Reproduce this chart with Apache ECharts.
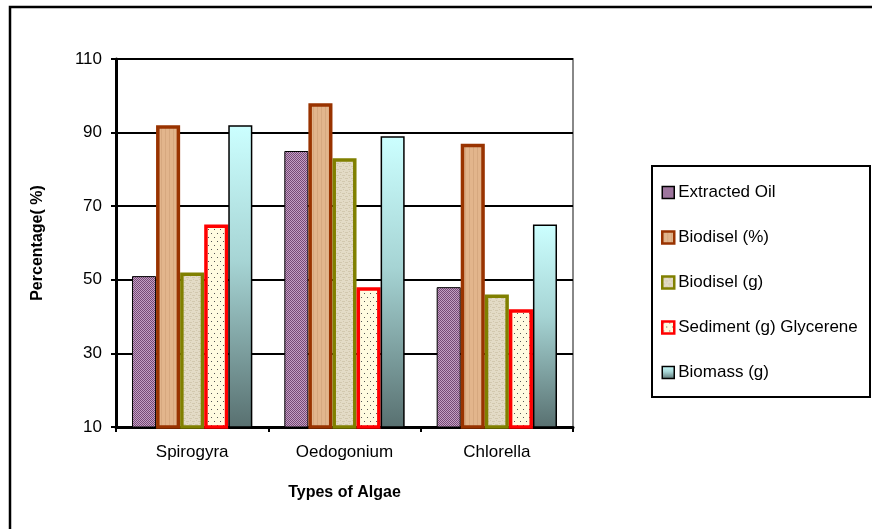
<!DOCTYPE html>
<html>
<head>
<meta charset="utf-8">
<script src="https://cdn.jsdelivr.net/npm/echarts@6/dist/echarts.min.js"></script>
<style>html,body{margin:0;padding:0;background:#fff}#c{width:872px;height:529px}</style>
</head>
<body>
<div id="c"></div>
<script>
const categories = ['Spirogyra', 'Oedogonium', 'Chlorella'];
const seriesNames = ['Extracted Oil', 'Biodisel (%)', 'Biodisel (g)', 'Sediment (g) Glycerene', 'Biomass (g)'];
const extractedOil = [51, 85, 48];
const biodiselPct = [92, 98, 87];
const biodiselG = [52, 83, 46];
const sediment = [65, 48, 42];
const biomass = [92, 89, 65];
const yTicks = [10, 30, 50, 70, 90, 110];

function pattern(w, h, draw) {
  const c = document.createElement('canvas');
  c.width = w; c.height = h;
  const ctx = c.getContext('2d');
  draw(ctx);
  return { image: c, repeat: 'repeat' };
}
const checker = pattern(2, 2, ctx => {
  ctx.fillStyle = '#c4a0c4'; ctx.fillRect(0, 0, 2, 2);
  ctx.fillStyle = '#764a76'; ctx.fillRect(0, 0, 1, 1); ctx.fillRect(1, 1, 1, 1);
});
const tan = pattern(4, 4, ctx => {
  ctx.fillStyle = '#e2b58c'; ctx.fillRect(0, 0, 4, 4);
  ctx.fillStyle = '#d6a87f'; ctx.fillRect(1, 0, 1, 4);
});
const beige = pattern(6, 6, ctx => {
  ctx.fillStyle = '#e3dbc6'; ctx.fillRect(0, 0, 6, 6);
  ctx.fillStyle = '#d2c8ae'; ctx.fillRect(0, 1, 3, 1); ctx.fillRect(3, 4, 3, 1); ctx.fillRect(4, 0, 1, 1); ctx.fillRect(1, 3, 1, 1);
});
const dots = pattern(6, 8, ctx => {
  ctx.fillStyle = '#fffbe0'; ctx.fillRect(0, 0, 6, 8);
  ctx.fillStyle = '#555'; ctx.fillRect(1, 1, 1, 1); ctx.fillRect(4, 5, 1, 1);
});
const grad = { type: 'linear', x: 0, y: 0, x2: 0, y2: 1, colorStops: [
  { offset: 0, color: '#ccffff' }, { offset: 0.45, color: '#a6d4d4' }, { offset: 1, color: '#587070' } ] };

const styles = [
  { color: checker, borderColor: '#000', borderWidth: 1 },
  { color: tan, borderColor: '#993300', borderWidth: 3.5 },
  { color: beige, borderColor: '#808000', borderWidth: 3.5 },
  { color: dots, borderColor: '#ff0000', borderWidth: 3.5 },
  { color: grad, borderColor: '#000', borderWidth: 1.5 }
];
const values = [extractedOil, biodiselPct, biodiselG, sediment, biomass];

const font = 'Liberation Sans, Arial, sans-serif';
const chart = echarts.init(document.getElementById('c'), null, { renderer: 'canvas' });
chart.setOption({
  animation: false,
  backgroundColor: '#fff',
  grid: { left: 116, right: 299, top: 59, bottom: 102, show: true, borderColor: '#888', borderWidth: 2 },
  xAxis: {
    type: 'category', data: categories,
    axisLine: { lineStyle: { color: '#000', width: 3 } },
    axisTick: { show: true, length: 5, lineStyle: { color: '#000', width: 2 } },
    axisLabel: { color: '#000', fontSize: 17, fontFamily: font, margin: 17 },
    name: 'Types of Algae', nameLocation: 'middle', nameGap: 58,
    nameTextStyle: { color: '#000', fontSize: 16, fontWeight: 'bold', fontFamily: font }
  },
  yAxis: {
    type: 'value', min: yTicks[0], max: yTicks[yTicks.length - 1], interval: 20,
    axisLine: { show: true, lineStyle: { color: '#000', width: 3 } },
    axisTick: { show: true, length: 5, lineStyle: { color: '#000', width: 2 } },
    axisLabel: { color: '#000', fontSize: 17, fontFamily: font, margin: 14 },
    splitLine: { lineStyle: { color: '#000', width: 2 } },
    name: 'Percentage( %)', nameLocation: 'middle', nameGap: 70,
    nameTextStyle: { color: '#000', fontSize: 16, fontWeight: 'bold', fontFamily: font }
  },
  legend: {
    orient: 'vertical', left: 656, top: 179, itemGap: 28,
    itemWidth: 12, itemHeight: 12, icon: 'rect',
    textStyle: { color: '#000', fontSize: 17, fontFamily: font, lineHeight: 17, padding: [0, 0, 0, -1] },
    data: seriesNames.map((n, i) => ({ name: n, itemStyle: { color: styles[i].color, borderColor: styles[i].borderColor, borderWidth: i === 0 || i === 4 ? 1.5 : 2.5 } }))
  },
  graphic: [
    { type: 'rect', shape: { x: 10, y: 7, width: 900, height: 560 }, style: { fill: 'none', stroke: '#000', lineWidth: 2.5 }, silent: true },
    { type: 'rect', shape: { x: 652, y: 166, width: 218, height: 231 }, style: { fill: 'none', stroke: '#000', lineWidth: 2 }, silent: true }
  ],
  series: seriesNames.map((n, i) => ({
    name: n, type: 'bar', data: values[i],
    barGap: '0%', barCategoryGap: '21%',
    itemStyle: styles[i]
  }))
});
</script>
</body>
</html>
